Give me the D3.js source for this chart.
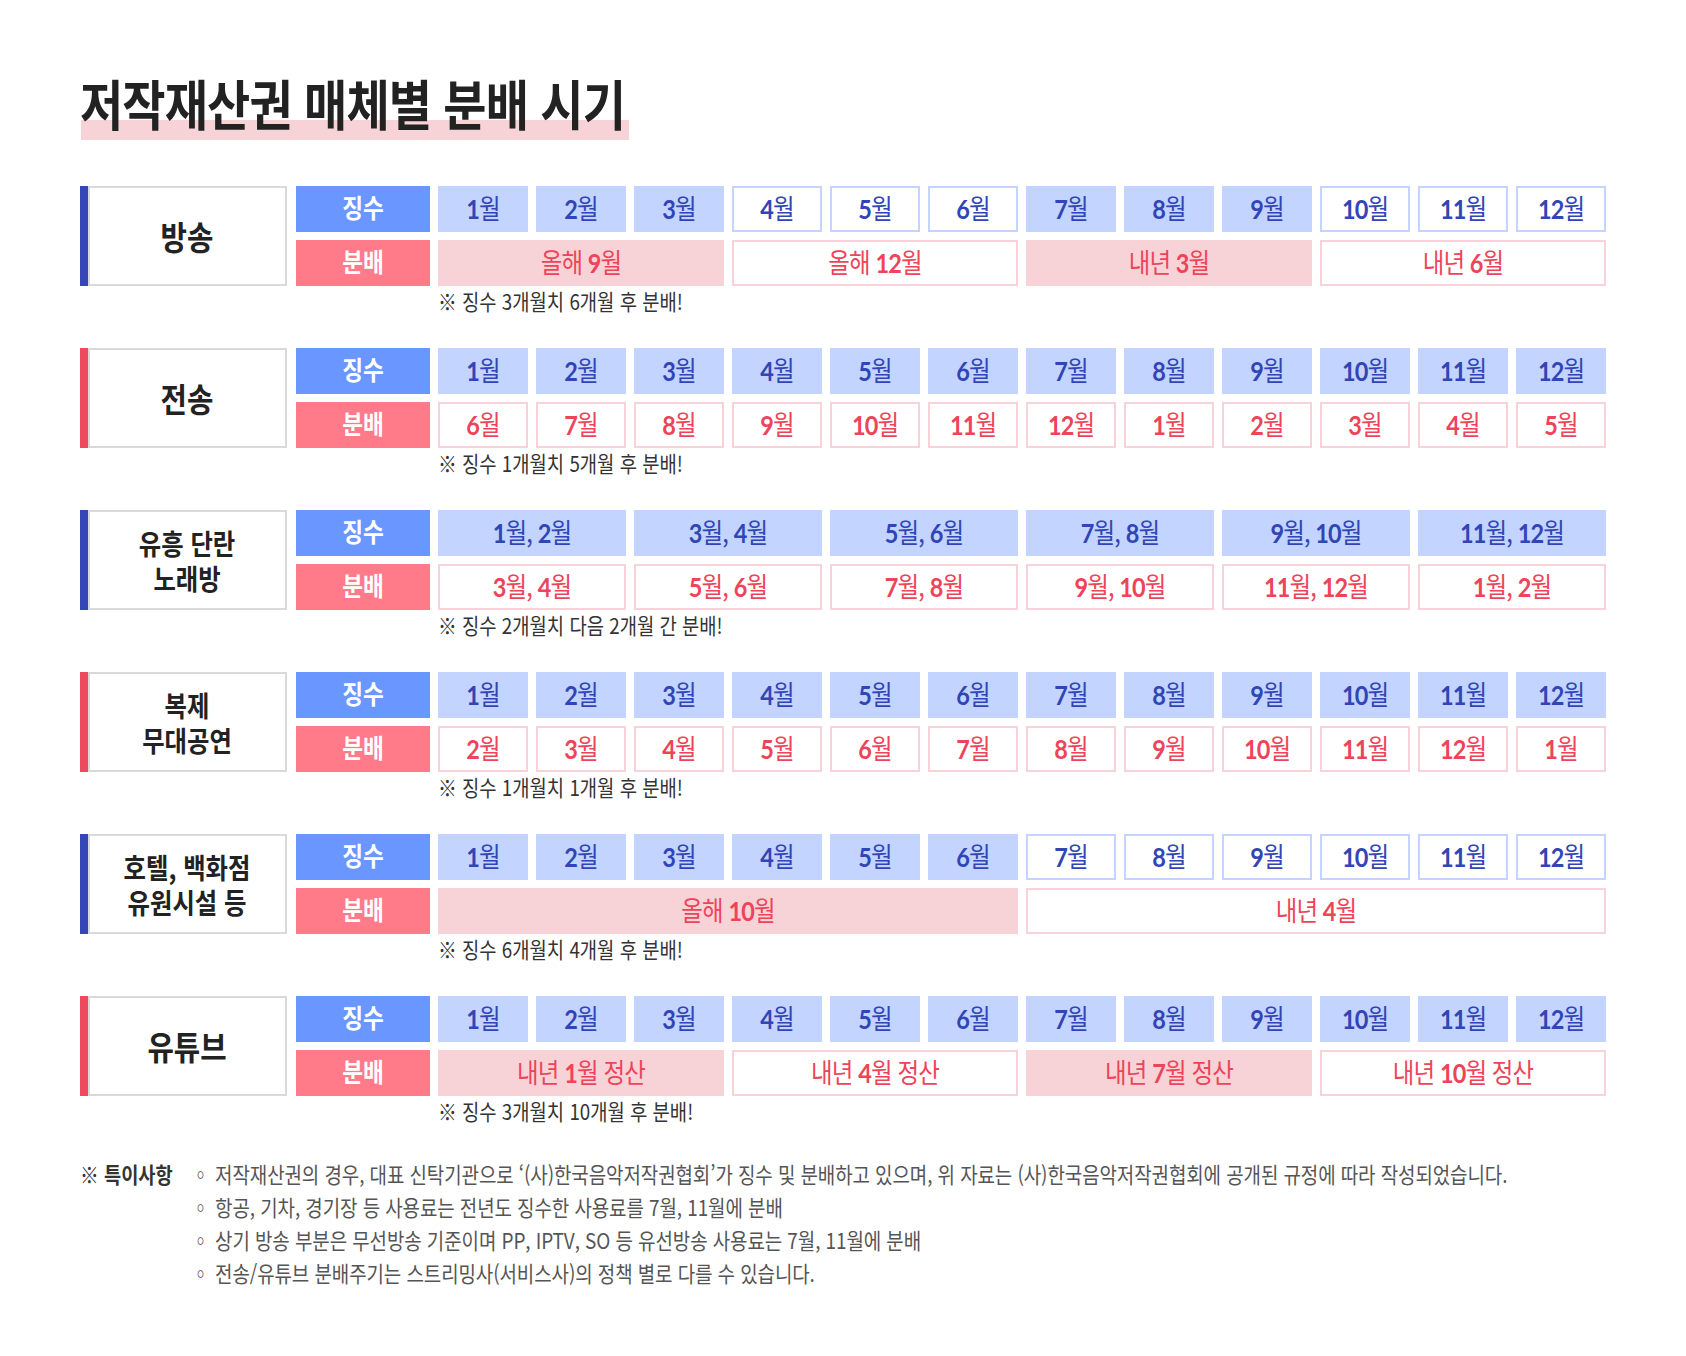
<!DOCTYPE html>
<html lang="ko">

<head>
    <meta charset="UTF-8">
    <title>저작재산권 매체별 분배 시기</title>
    <script src="https://cdn.jsdelivr.net/npm/d3@7"></script>
    <style>
        body {
            margin: 0;
            background: #ffffff;
        }

        text {
            font-family: 'Noto Sans CJK KR', sans-serif;
        }
    </style>
</head>

<body>
    <div id="chart"></div>
</body>
<script>

    // ---- data ----
    const title = "저작재산권 매체별 분배 시기"
    const groups = ["방송", "전송", "유흥 단란\n노래방", "복제\n무대공연", "호텔, 백화점\n유원시설 등", "유튜브"]
    const rowHeads = ["징수", "분배"]
    const months = ["1월", "2월", "3월", "4월", "5월", "6월", "7월", "8월", "9월", "10월", "11월", "12월"]
    const pairs = ["1월, 2월", "3월, 4월", "5월, 6월", "7월, 8월", "9월, 10월", "11월, 12월"]

    const collectLabels = [months, months, pairs, months, months, months]
    const collectFilled = [
        [1, 1, 1, 0, 0, 0, 1, 1, 1, 0, 0, 0],
        [1, 1, 1, 1, 1, 1, 1, 1, 1, 1, 1, 1],
        [1, 1, 1, 1, 1, 1],
        [1, 1, 1, 1, 1, 1, 1, 1, 1, 1, 1, 1],
        [1, 1, 1, 1, 1, 1, 0, 0, 0, 0, 0, 0],
        [1, 1, 1, 1, 1, 1, 1, 1, 1, 1, 1, 1]
    ]
    const payLabels = [
        ["올해 9월", "올해 12월", "내년 3월", "내년 6월"],
        ["6월", "7월", "8월", "9월", "10월", "11월", "12월", "1월", "2월", "3월", "4월", "5월"],
        ["3월, 4월", "5월, 6월", "7월, 8월", "9월, 10월", "11월, 12월", "1월, 2월"],
        ["2월", "3월", "4월", "5월", "6월", "7월", "8월", "9월", "10월", "11월", "12월", "1월"],
        ["올해 10월", "내년 4월"],
        ["내년 1월 정산", "내년 4월 정산", "내년 7월 정산", "내년 10월 정산"]
    ]
    const payFilled = [
        [1, 0, 1, 0],
        [0, 0, 0, 0, 0, 0, 0, 0, 0, 0, 0, 0],
        [0, 0, 0, 0, 0, 0],
        [0, 0, 0, 0, 0, 0, 0, 0, 0, 0, 0, 0],
        [1, 0],
        [1, 0, 1, 0]
    ]
    const notes = [
        "※ 징수 3개월치 6개월 후 분배!",
        "※ 징수 1개월치 5개월 후 분배!",
        "※ 징수 2개월치 다음 2개월 간 분배!",
        "※ 징수 1개월치 1개월 후 분배!",
        "※ 징수 6개월치 4개월 후 분배!",
        "※ 징수 3개월치 10개월 후 분배!"
    ]
    const remarkHead = "※ 특이사항"
    const remarks = [
        "◦ 저작재산권의 경우, 대표 신탁기관으로 ‘(사)한국음악저작권협회’가 징수 및 분배하고 있으며, 위 자료는 (사)한국음악저작권협회에 공개된 규정에 따라 작성되었습니다.",
        "◦ 항공, 기차, 경기장 등 사용료는 전년도 징수한 사용료를 7월, 11월에 분배",
        "◦ 상기 방송 부분은 무선방송 기준이며 PP, IPTV, SO 등 유선방송 사용료는 7월, 11월에 분배",
        "◦ 전송/유튜브 분배주기는 스트리밍사(서비스사)의 정책 별로 다를 수 있습니다."
    ]

    // ---- look ----
    const width = 1686
    const height = 1356
    const SX = 0.87   // the source type is set narrow
    const accent = ["#3446b8", "#ee4a5e"]
    const blueText = "#3145b6"
    const redText = "#ee4459"
    const lightBlue = "#c2d4ff"
    const lightPink = "#f7d3d8"

    const cellH = 46
    const rowGap = 8
    const colGap = 8

    const x = d3.scaleLinear().domain([0, 12]).range([438, 1614])
    const y = d3.scaleLinear().domain([0, groups.length]).range([186, 186 + 162 * groups.length])

    const svg = d3.select("#chart")
        .append("svg")
        .attr("width", width)
        .attr("height", height)

    // text squeezed horizontally around its anchor
    function squeezed(g, px, py, anchor) {
        return g.append("text")
            .attr("transform", `translate(${px},${py}) scale(${SX},1)`)
            .attr("text-anchor", anchor)
    }

    // numbers bold, the rest regular
    function cellText(g, px, py, str, color) {
        const t = squeezed(g, px, py, "middle")
            .attr("dy", "0.36em")
            .attr("font-size", 27)
            .attr("letter-spacing", -1)
            .attr("fill", color)
        str.split(/(\d+)/).filter(s => s.length).forEach(s => {
            const isNum = /^\d+$/.test(s)
            t.append("tspan")
                .style("font-family", isNum ? "Lato, 'Noto Sans CJK KR'" : "'Noto Sans CJK KR'")
                .attr("font-weight", isNum ? 700 : 400)
                .text(s)
        })
    }

    // title
    svg.append("rect")
        .attr("x", 81).attr("y", 120)
        .attr("width", 548).attr("height", 20)
        .attr("fill", lightPink)
    squeezed(svg, 80, 126, "start")
        .attr("font-size", 54)
        .attr("font-weight", 700)
        .attr("letter-spacing", -1)
        .attr("fill", "#222")
        .text(title)

    // one block per medium
    groups.forEach((name, i) => {
        const g = svg.append("g")
        const top = y(i)
        const rowY = [top, top + cellH + rowGap]

        g.append("rect")
            .attr("x", 80).attr("y", top)
            .attr("width", 8).attr("height", cellH * 2 + rowGap)
            .attr("fill", accent[i % 2])
        g.append("rect")
            .attr("x", 89).attr("y", top + 1)
            .attr("width", 197).attr("height", cellH * 2 + rowGap - 2)
            .attr("fill", "#fff")
            .attr("stroke", "#d9d9d9")
            .attr("stroke-width", 2)

        const lines = name.split("\n")
        const mid = top + (cellH * 2 + rowGap) / 2 + 2
        lines.forEach((ln, k) => {
            squeezed(g, 187, mid + (k - (lines.length - 1) / 2) * 35, "middle")
                .attr("dy", "0.36em")
                .attr("font-size", lines.length > 1 ? 28 : 33)
                .attr("font-weight", 700)
                .attr("fill", "#222")
                .text(ln)
        })

        rowHeads.forEach((h, r) => {
            g.append("rect")
                .attr("x", 296).attr("y", rowY[r])
                .attr("width", 134).attr("height", cellH)
                .attr("fill", r === 0 ? "#6a96ff" : "#ff7b89")
            squeezed(g, 363, rowY[r] + cellH / 2, "middle")
                .attr("dy", "0.36em")
                .attr("font-size", 26)
                .attr("font-weight", 700)
                .attr("fill", "#fff")
                .text(h)
        })

        const rows = [
            { labels: collectLabels[i], filled: collectFilled[i], fill: lightBlue, color: blueText },
            { labels: payLabels[i], filled: payFilled[i], fill: lightPink, color: redText }
        ]
        rows.forEach((row, r) => {
            const span = 12 / row.labels.length
            row.labels.forEach((lab, j) => {
                const x0 = x(j * span)
                const x1 = x((j + 1) * span) - colGap
                if (row.filled[j]) {
                    g.append("rect")
                        .attr("x", x0).attr("y", rowY[r])
                        .attr("width", x1 - x0).attr("height", cellH)
                        .attr("fill", row.fill)
                } else {
                    g.append("rect")
                        .attr("x", x0 + 1).attr("y", rowY[r] + 1)
                        .attr("width", x1 - x0 - 2).attr("height", cellH - 2)
                        .attr("fill", "#fff")
                        .attr("stroke", row.fill)
                        .attr("stroke-width", 2)
                }
                cellText(g, (x0 + x1) / 2, rowY[r] + cellH / 2, lab, row.color)
            })
        })

        squeezed(g, 438, top + 124, "start")
            .attr("font-size", 21.6)
            .attr("fill", "#333")
            .text(notes[i])
    })

    // remarks
    squeezed(svg, 80, 1183, "start")
        .attr("font-size", 21.5)
        .attr("font-weight", 700)
        .attr("fill", "#333")
        .text(remarkHead)
    remarks.forEach((t, k) => {
        squeezed(svg, 191, 1183 + 33 * k, "start")
            .attr("font-size", 21.8)
            .attr("letter-spacing", -0.1)
            .attr("fill", "#555")
            .text(t)
    })
</script>

</html>
